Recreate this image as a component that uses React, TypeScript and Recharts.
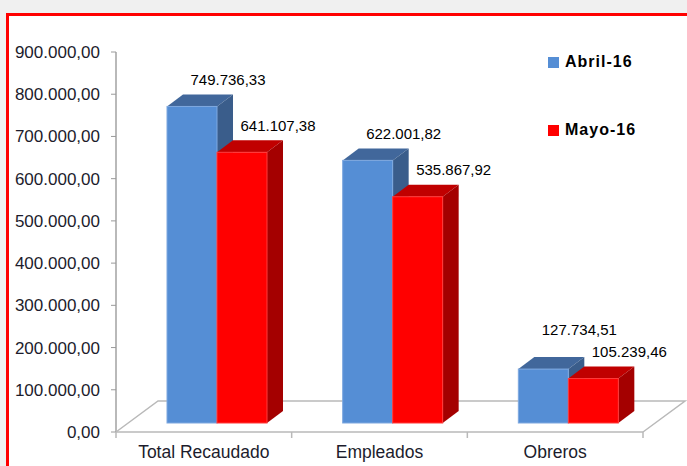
import { BarChart, Bar, XAxis, YAxis, LabelList } from 'recharts'

const categories = ['Total Recaudado', 'Empleados', 'Obreros']
const abril = [749736.33, 622001.82, 127734.51]
const mayo = [641107.38, 535867.92, 105239.46]
const yTicks = [0, 100000, 200000, 300000, 400000, 500000, 600000, 700000, 800000, 900000]

const series = [
  { key: 'abril', name: 'Abril-16', color: '#558ed5' },
  { key: 'mayo', name: 'Mayo-16', color: '#ff0000' },
]

const data = categories.map((name, i) => ({ name, abril: abril[i], mayo: mayo[i] }))

const W = 687
const H = 466
const X_AXIS_H = 34
const Y_AXIS_W = 116
const MARGIN = { top: 52, right: 44, bottom: 0, left: 0 }
const PLOT_L = MARGIN.left + Y_AXIS_W
const PLOT_R = W - MARGIN.right
const PLOT_B = H - MARGIN.bottom - X_AXIS_H
const BAND = (PLOT_R - PLOT_L) / categories.length

// 3d look
const FLOOR = { dx: 42, dy: 31 }
const SHIFT = { dx: 13, dy: 9 }
const DEPTH = { dx: 16, dy: 12 }

const FONT = '"Liberation Sans", Arial, sans-serif'
const GRID = '#b9b9b9'

const fmt = (v: number) => {
  const [int, dec] = v.toFixed(2).split('.')
  return int.replace(/\B(?=(\d{3})+(?!\d))/g, '.') + ',' + dec
}

const make3D = (front: string, top: string, side: string, edge: string) => (props: any) => {
  const { x, y, width, height } = props
  if (!height) return null
  const fx = x + SHIFT.dx
  const fy = y - SHIFT.dy
  const r = fx + width
  const b = fy + height
  return (
    <g>
      <polygon
        points={`${fx},${fy} ${fx + DEPTH.dx},${fy - DEPTH.dy} ${r + DEPTH.dx},${fy - DEPTH.dy} ${r},${fy}`}
        fill={top}
      />
      <polygon
        points={`${r},${fy} ${r + DEPTH.dx},${fy - DEPTH.dy} ${r + DEPTH.dx},${b - DEPTH.dy} ${r},${b}`}
        fill={side}
      />
      <rect x={fx} y={fy} width={width} height={height} fill={front} stroke={edge} strokeWidth={1} />
    </g>
  )
}

const AbrilShape = make3D('#558ed5', '#41679b', '#3a5d8b', '#7ea8df')
const MayoShape = make3D('#ff0000', '#c00000', '#a40000', '#ff3a3a')

const valueLabel = (other?: number[]) => (props: any) => {
  const { x, y, width, height, value, index } = props
  const k = height / value
  let ly = y - SHIFT.dy - 27
  if (other) {
    // keep clear of the neighbour's label
    const otherTop = y + height - other[index] * k - SHIFT.dy
    ly = Math.min(ly, otherTop - 27 - 22)
  }
  return (
    <text
      x={x + width / 2 + SHIFT.dx + 36}
      y={ly}
      textAnchor="middle"
      dominantBaseline="central"
      fontFamily={FONT}
      fontSize={15}
      fill="#000"
    >
      {fmt(value)}
    </text>
  )
}

const CategoryTick = (props: any) => {
  const { x, y, payload, index } = props
  const last = index === categories.length - 1
  return (
    <g>
      <line x1={x - BAND / 2} y1={y} x2={x - BAND / 2} y2={y + 6} stroke={GRID} strokeWidth={1.5} />
      {last && <line x1={x + BAND / 2} y1={y} x2={x + BAND / 2} y2={y + 6} stroke={GRID} strokeWidth={1.5} />}
      <text
        x={x}
        y={y + 20}
        textAnchor="middle"
        dominantBaseline="central"
        fontFamily={FONT}
        fontSize={17.5}
        fill="#1c1c2c"
      >
        {payload.value}
      </text>
    </g>
  )
}

const App = () => {
  return (
    <div style={{ position: 'fixed', left: 0, top: 0, width: W, height: H, background: '#f0f0f0', overflow: 'hidden' }}>
      <div
        style={{
          position: 'absolute',
          left: 6,
          top: 13,
          width: 720,
          height: 480,
          border: '3px solid #ff0000',
          background: '#fff',
        }}
      />
      {/* floor */}
      <svg width={W} height={H} style={{ position: 'absolute', left: 0, top: 0 }}>
        <polyline
          points={`${PLOT_L},${PLOT_B} ${PLOT_L + FLOOR.dx},${PLOT_B - FLOOR.dy} ${PLOT_R + FLOOR.dx},${PLOT_B - FLOOR.dy} ${PLOT_R},${PLOT_B}`}
          fill="none"
          stroke={GRID}
          strokeWidth={1.5}
        />
      </svg>
      <div style={{ position: 'absolute', left: 0, top: 0 }}>
        <BarChart width={W} height={H} data={data} margin={MARGIN} barSize={50} barGap={0}>
          <XAxis
            dataKey="name"
            axisLine={{ stroke: GRID, strokeWidth: 1.5 }}
            tickLine={false}
            tickSize={0}
            tickMargin={0}
            height={X_AXIS_H}
            interval={0}
            tick={<CategoryTick />}
          />
          <YAxis
            domain={[0, 900000]}
            ticks={yTicks}
            interval={0}
            width={Y_AXIS_W}
            tickFormatter={fmt}
            axisLine={{ stroke: GRID, strokeWidth: 2 }}
            tickLine={{ stroke: '#9a9a9a' }}
            tickSize={5}
            tickMargin={11}
            tick={{ fontFamily: FONT, fontSize: 17, fill: '#1c1c2c' }}
          />
          <Bar dataKey="abril" name="Abril-16" fill="#558ed5" shape={AbrilShape} isAnimationActive={false}>
            <LabelList dataKey="abril" content={valueLabel(mayo)} />
          </Bar>
          <Bar dataKey="mayo" name="Mayo-16" fill="#ff0000" shape={MayoShape} isAnimationActive={false}>
            <LabelList dataKey="mayo" content={valueLabel()} />
          </Bar>
        </BarChart>
      </div>
      {/* legend */}
      <div style={{ position: 'absolute', left: 548, top: 52, display: 'flex', flexDirection: 'column', gap: 48 }}>
        {series.map((s) => (
          <div key={s.key} style={{ display: 'flex', alignItems: 'center', height: 20 }}>
            <span style={{ width: 11, height: 11, background: s.color, marginRight: 6, display: 'inline-block' }} />
            <span style={{ fontFamily: FONT, fontSize: 16, fontWeight: 'bold', letterSpacing: 1, color: '#000' }}>
              {s.name}
            </span>
          </div>
        ))}
      </div>
    </div>
  )
}

export default App
